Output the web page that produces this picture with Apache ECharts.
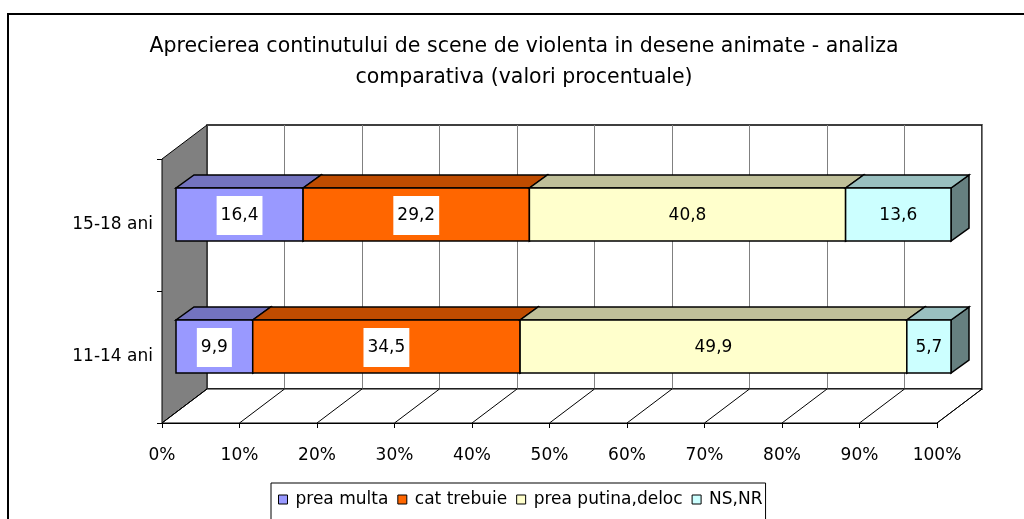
<!DOCTYPE html>
<html>
<head>
<meta charset="utf-8">
<script src="https://cdn.jsdelivr.net/npm/echarts@6/dist/echarts.min.js"></script>
<style>
  html, body { margin: 0; padding: 0; background: #fff; }
  #chart { width: 1024px; height: 519px; }
</style>
</head>
<body>
<div id="chart"></div>
<script>
// date
var categories = ['11-14 ani', '15-18 ani'];
var seriesNames = ['prea multa', 'cat trebuie', 'prea putina,deloc', 'NS,NR'];
var preaMulta = [9.9, 16.4];
var catTrebuie = [34.5, 29.2];
var preaPutina = [49.9, 40.8];
var nsNr = [5.7, 13.6];
var xTicks = [0, 10, 20, 30, 40, 50, 60, 70, 80, 90, 100];

var allValues = [preaMulta, catTrebuie, preaPutina, nsNr];
var frontColors = ['#9999FF', '#FF6600', '#FFFFCC', '#CCFFFF'];
var topColors = ['#7373BF', '#BF4C00', '#BFBF99', '#99BFBF'];
var sideColors = ['#4D4D80', '#803300', '#808066', '#668080'];

var FONT = '"DejaVu Sans", "Liberation Sans", Arial, sans-serif';
// adancimea 3d (pixeli)
var DX = 45, DY = -34;
var FX = 14, FY = -10.5;     // fata barei
var BDX = 18, BDY = -13;     // grosimea barei
var BH = 53;

function fmt(v) {
    return String(v).replace('.', ',');
}

var myChart = echarts.init(document.getElementById('chart'), null, {renderer: 'canvas'});

// perete stanga + podea
var wallSeries = {
    type: 'custom',
    name: '_walls',
    xAxisIndex: 0,
    yAxisIndex: 0,
    silent: true,
    data: xTicks.map(function (t) { return [t, 0]; }),
    renderItem: function (params, api) {
        var cs = params.coordSys;
        var x0 = cs.x, y0 = cs.y, yb = cs.y + cs.height, x1 = cs.x + cs.width;
        var px = api.coord([api.value(0), 0])[0];
        var children = [];
        if (params.dataIndex === 0) {
            children.push({
                type: 'polygon',
                shape: {points: [[x0, y0], [x0 + DX, y0 + DY], [x0 + DX, yb + DY], [x0, yb]]},
                style: {fill: '#808080', stroke: '#000', lineWidth: 1}
            });
            children.push({
                type: 'polygon',
                shape: {points: [[x0, yb], [x1, yb], [x1 + DX, yb + DY], [x0 + DX, yb + DY]]},
                style: {fill: '#fff', stroke: '#000', lineWidth: 1}
            });
        }
        children.push({
            type: 'line',
            shape: {x1: px, y1: yb, x2: px + DX, y2: yb + DY},
            style: {stroke: '#000', lineWidth: 1}
        });
        return {type: 'group', children: children};
    },
    z: 1
};

function barSeries(idx) {
    var data = [];
    for (var c = 0; c < categories.length; c++) {
        var start = 0;
        for (var k = 0; k < idx; k++) start += allValues[k][c];
        data.push([start, start + allValues[idx][c], c, allValues[idx][c]]);
    }
    return {
        type: 'custom',
        name: seriesNames[idx],
        xAxisIndex: 0,
        yAxisIndex: 0,
        itemStyle: {color: frontColors[idx], borderColor: '#000', borderWidth: 1},
        encode: {x: [0, 1], y: 2},
        data: data,
        z: 3,
        renderItem: function (params, api) {
            var s = api.value(0), e = api.value(1), c = api.value(2), v = api.value(3);
            var p0 = api.coord([s, c]);
            var p1 = api.coord([e, c]);
            var xa = p0[0] + FX, xb = p1[0] + FX;
            var yc = p0[1] + FY;
            var yt = yc - BH / 2, ybt = yc + BH / 2;
            var lbl = {
                type: 'text',
                style: {
                    text: fmt(v),
                    x: (xa + xb) / 2,
                    y: yc + 1,
                    align: 'center',
                    verticalAlign: 'middle',
                    fill: '#000',
                    fontSize: 17,
                    fontFamily: FONT
                }
            };
            if (idx < 2) {
                lbl.style.backgroundColor = '#fff';
                lbl.style.padding = [11, 4, 11, 4];
            }
            return {
                type: 'group',
                children: [
                    {
                        type: 'polygon',
                        shape: {points: [[xb, yt], [xb + BDX, yt + BDY], [xb + BDX, ybt + BDY], [xb, ybt]]},
                        style: {fill: sideColors[idx], stroke: '#000', lineWidth: 1.5}
                    },
                    {
                        type: 'polygon',
                        shape: {points: [[xa, yt], [xb, yt], [xb + BDX, yt + BDY], [xa + BDX, yt + BDY]]},
                        style: {fill: topColors[idx], stroke: '#000', lineWidth: 1.5}
                    },
                    {
                        type: 'rect',
                        shape: {x: xa, y: yt, width: xb - xa, height: BH},
                        style: {fill: frontColors[idx], stroke: '#000', lineWidth: 1.5}
                    },
                    lbl
                ]
            };
        }
    };
}

var series = [wallSeries];
for (var i = 0; i < seriesNames.length; i++) {
    series.push(barSeries(i));
}

var option = {
    animation: false,
    backgroundColor: '#fff',
    title: {
        text: 'Aprecierea continutului de scene de violenta in desene animate - analiza\ncomparativa (valori procentuale)',
        left: 519,
        top: 26,
        textAlign: 'center',
        textStyle: {
            fontFamily: FONT,
            fontSize: 20.5,
            fontWeight: 'normal',
            color: '#000',
            lineHeight: 31
        }
    },
    graphic: [{
        type: 'rect',
        shape: {x: 8, y: 14, width: 1100, height: 600},
        style: {fill: 'none', stroke: '#000', lineWidth: 2},
        silent: true
    }],
    legend: {
        data: seriesNames,
        left: 271,
        top: 483,
        icon: 'rect',
        itemWidth: 9,
        itemHeight: 9,
        itemGap: 9,
        padding: [8, 3, 20, 7],
        borderColor: '#000',
        borderWidth: 1,
        itemStyle: {borderColor: '#000', borderWidth: 1},
        textStyle: {fontFamily: FONT, fontSize: 17, color: '#000', padding: [0, 0, 0, 3]},
        selectedMode: false
    },
    grid: [
        {left: 162, top: 159, width: 775, height: 264, containLabel: false},
        {left: 207, top: 125, width: 775, height: 264, containLabel: false,
         show: true, backgroundColor: '#fff', borderColor: '#000', borderWidth: 1.5}
    ],
    xAxis: [
        {
            type: 'value', gridIndex: 0, min: 0, max: 100, interval: 10,
            axisLine: {show: true, lineStyle: {color: '#000', width: 1}},
            axisTick: {show: true, length: 5, lineStyle: {color: '#000'}},
            axisLabel: {
                margin: 24, color: '#000', fontSize: 17, fontFamily: FONT,
                formatter: '{value}%'
            },
            splitLine: {show: false}
        },
        {
            type: 'value', gridIndex: 1, min: 0, max: 100, interval: 10,
            axisLine: {show: false}, axisTick: {show: false}, axisLabel: {show: false},
            splitLine: {show: true, lineStyle: {color: '#808080', width: 1}}
        }
    ],
    yAxis: [
        {
            type: 'category', gridIndex: 0, data: categories,
            axisLine: {show: true, lineStyle: {color: '#000', width: 1}},
            axisTick: {show: true, length: 5, lineStyle: {color: '#000'}},
            axisLabel: {margin: 9, color: '#000', fontSize: 17, fontFamily: FONT},
            splitLine: {show: false}
        },
        {
            type: 'category', gridIndex: 1, data: categories,
            axisLine: {show: false}, axisTick: {show: false}, axisLabel: {show: false},
            splitLine: {show: false}
        }
    ],
    series: series
};

myChart.setOption(option);
</script>
</body>
</html>
